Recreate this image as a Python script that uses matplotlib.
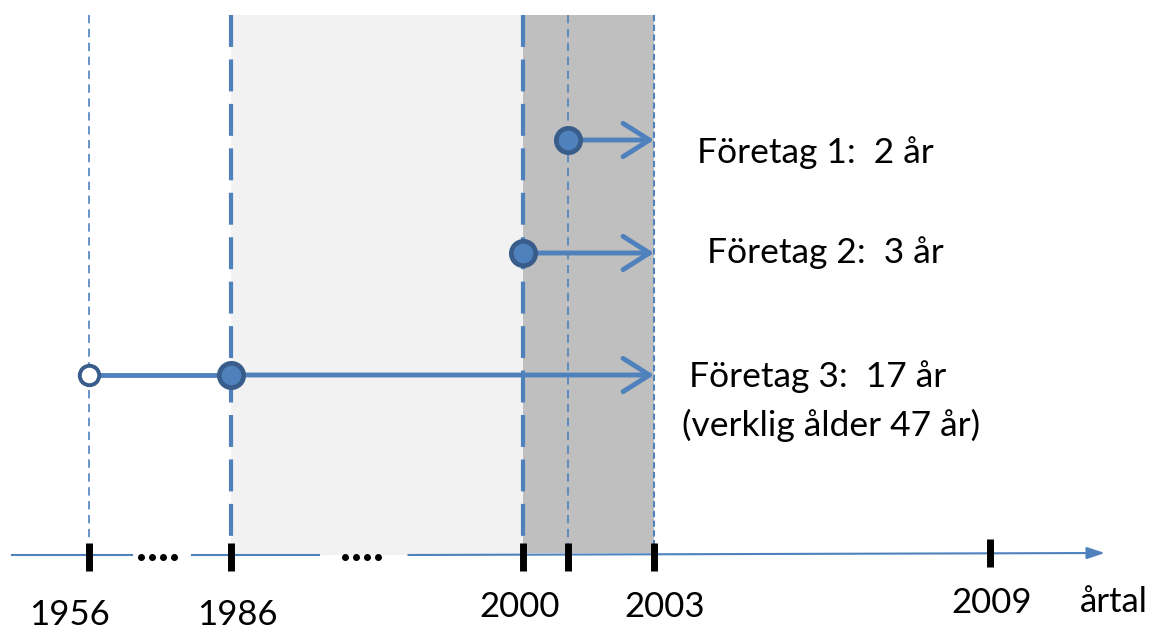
import matplotlib.pyplot as plt
import numpy as np

plt.rcParams['font.family'] = ['Lato', 'DejaVu Sans']
plt.rcParams['lines.scale_dashes'] = False

# data
tick_years = [1956, 1986, 2000, 2001, 2003, 2009]
companies = ['Företag 1:  2 år', 'Företag 2:  3 år', 'Företag 3:  17 år']
start_years = [2001, 2000, 1986]
end_year = 2003
age = [2, 3, 17]
true_start = 1956
extra_note = '(verklig ålder 47 år)'
axis_label = 'årtal'

# broken (schematic) time axis: year -> horizontal position
brk_years = [1948, 1956, 1986, 2000, 2001, 2003, 2009, 2013]
brk_pos = [0, 89, 231, 523, 568, 654, 990, 1154]


def fwd(v):
    return np.interp(v, brk_years, brk_pos)


def inv(v):
    return np.interp(v, brk_pos, brk_years)


blue = '#4f81bd'
dark = '#385d8a'

fig = plt.figure(figsize=(11.54, 6.34), dpi=100)
ax = fig.add_axes([0, 0, 1, 1])
ax.set_xscale('function', functions=(fwd, inv))
ax.set_xlim(1948, 2013)
ax.set_ylim(634, 0)
ax.axis('off')

# shaded periods
ax.fill_between([1986, 2000], 15, 555, color='#f2f2f2', lw=0, zorder=0)
ax.fill_between([2000, 2003], 15, 553, color='#bfbfbf', lw=0, zorder=0)

# vertical guide lines
ax.plot([1956, 1956], [15, 540], color=blue, lw=1.2, dashes=(6, 4), zorder=1)
ax.plot([2001, 2001], [15, 545], color=blue, lw=1.2, dashes=(6, 4), zorder=1)
ax.plot([2003, 2003], [15, 545], color=blue, lw=1.5, dashes=(4.5, 2.5), zorder=1)
for yr in [1986, 2000]:
    ax.plot([yr, yr], [15, 548], color=blue, lw=3, dashes=(23, 9), zorder=1)

# time axis with gaps
ax.plot([1949.1, 1965.1], [555, 555], color=blue, lw=1.5, zorder=2)
ax.plot([1977.8, 1990.2], [555, 555], color=blue, lw=1.5, zorder=2)
ax.annotate('', xy=(2011.8, 553), xytext=(1994.5, 555),
            arrowprops=dict(arrowstyle='-|>,head_length=0.9,head_width=0.3',
                            color=blue, lw=1.5, mutation_scale=12,
                            shrinkA=0, shrinkB=0), zorder=2)
for xd in [1970.6, 1992.3]:
    ax.text(xd, 561, '....', fontsize=33, ha='center', va='baseline',
            fontweight='bold', color='black')

# ticks
for yr in tick_years:
    y0, y1 = (539, 567) if yr == 2009 else (543, 571)
    ax.plot([yr, yr], [y0, y1], color='black', lw=5, solid_capstyle='butt', zorder=3)

# tick labels (shifted a little as in the original drawing)
lab_dx = [-20, 6, -3, 11, 2]
lab_y = [615, 615, 607, 607, 603]
lab_years = [1956, 1986, 2000, 2003, 2009]
for yr, dx, yy in zip(lab_years, lab_dx, lab_y):
    ax.annotate(str(yr), xy=(yr, yy), xytext=(dx * 0.72, 0), textcoords='offset points',
                ha='center', va='center', fontsize=25)
ax.annotate(axis_label, xy=(2009, 602), xytext=(65, 0), textcoords='offset points',
            ha='left', va='center', fontsize=25)

# company arrows
lane_y = [140, 253, 375]
text_y = [153, 253, 377]
lab_off = [31, 38, 25]
for name, s, y, ty, off in zip(companies, start_years, lane_y, text_y, lab_off):
    ax.annotate('', xy=(end_year, y), xytext=(s, y),
                arrowprops=dict(arrowstyle='->,head_length=0.95,head_width=0.6',
                                color=blue, lw=3.5, mutation_scale=20,
                                shrinkA=0, shrinkB=0, capstyle='round'), zorder=4)
    ax.plot([s], [y], 'o', ms=17.5, mfc=blue, mec=dark, mew=3.4, zorder=5)
    ax.annotate(name, xy=(end_year, ty), xytext=(off, 0), textcoords='offset points',
                ha='left', va='center', fontsize=25.5)

# company 3 real founding year
ax.plot([true_start, 1986], [375, 375], color=blue, lw=3.5, zorder=4)
ax.plot([true_start], [375], 'o', ms=14, mfc='white', mec=dark, mew=2.8, zorder=5)
ax.annotate(extra_note, xy=(end_year, 425), xytext=(20, 0), textcoords='offset points',
            ha='left', va='center', fontsize=25.5)

fig.savefig('out.png', dpi=100)
